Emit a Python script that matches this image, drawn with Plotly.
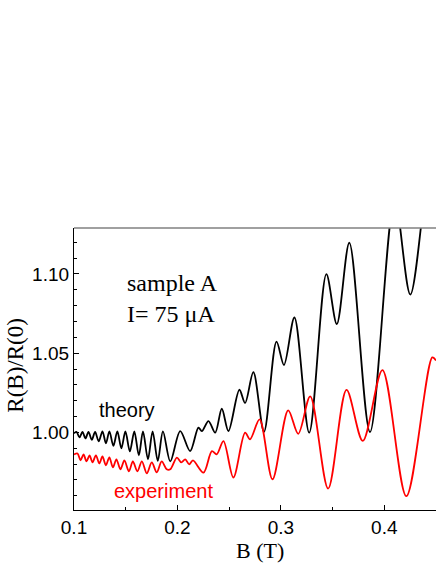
import plotly.graph_objects as go

# ---- data ----
theory_B = [0.1000, 0.1024, 0.1053, 0.1082, 0.1111, 0.1140, 0.1172, 0.1204, 0.1239, 0.1275,
            0.1309, 0.1342, 0.1381, 0.1419, 0.1458, 0.1497, 0.1540, 0.1583, 0.1627, 0.1667,
            0.1715, 0.1760, 0.1810, 0.1860, 0.1931, 0.2027, 0.2123, 0.2203, 0.2236, 0.2300,
            0.2365, 0.2429, 0.2493, 0.2599, 0.2654, 0.2734, 0.2837, 0.2958, 0.3030, 0.3131,
            0.3274, 0.3440, 0.3541, 0.3662, 0.3862, 0.4100, 0.4252, 0.4457, 0.4500]
theory_R = [0.9994, 1.0003, 0.9968, 1.0003, 0.9962, 1.0003, 0.9953, 1.0003, 0.9943, 1.0006,
            0.9931, 1.0006, 0.9915, 1.0006, 0.9899, 1.0006, 0.9880, 1.0006, 0.9855, 1.0006,
            0.9830, 1.0006, 0.9820, 1.0006, 0.9817, 1.0008, 0.9882, 1.0030, 1.0008, 1.0071,
            0.9998, 1.0149, 1.0008, 1.0269, 1.0186, 1.0380, 1.0003, 1.0573, 1.0425, 1.0725,
            0.9998, 1.0999, 1.0684, 1.1197, 1.0002, 1.1470, 1.0870, 1.1780, 1.1700]

exp_B = [0.1000, 0.1034, 0.1063, 0.1092, 0.1121, 0.1150, 0.1179, 0.1212, 0.1245, 0.1275,
         0.1308, 0.1342, 0.1376, 0.1410, 0.1449, 0.1487, 0.1531, 0.1569, 0.1613, 0.1656,
         0.1704, 0.1752, 0.1800, 0.1848, 0.1896, 0.1931, 0.1995, 0.2037, 0.2075, 0.2114,
         0.2150, 0.2252, 0.2333, 0.2379, 0.2445, 0.2541, 0.2654, 0.2702, 0.2794, 0.2919,
         0.3071, 0.3168, 0.3284, 0.3457, 0.3635, 0.3792, 0.3982, 0.4213, 0.4464, 0.4500]
exp_R = [0.9861, 0.9867, 0.9824, 0.9861, 0.9817, 0.9855, 0.9811, 0.9855, 0.9804, 0.9848,
         0.9792, 0.9842, 0.9779, 0.9830, 0.9767, 0.9823, 0.9754, 0.9817, 0.9754, 0.9817,
         0.9741, 0.9810, 0.9748, 0.9817, 0.9767, 0.9767, 0.9841, 0.9811, 0.9830, 0.9798,
         0.9823, 0.9746, 0.9882, 0.9861, 0.9945, 0.9715, 0.9998, 0.9956, 1.0082, 0.9704,
         1.0139, 0.9991, 1.0227, 0.9645, 1.0268, 0.9946, 1.0393, 0.9597, 1.0473, 1.0454]

x_ticks = [0.1, 0.2, 0.3, 0.4]
x_tick_labels = ["0.1", "0.2", "0.3", "0.4"]
y_ticks = [0.95, 1.00, 1.05, 1.10]
y_tick_labels = ["0.95", "1.00", "1.05", "1.10"]

fig = go.Figure()
fig.add_trace(go.Scatter(x=theory_B, y=theory_R, mode="lines",
                         line=dict(color="black", width=1.8, shape="spline", smoothing=0.9),
                         showlegend=False, hoverinfo="skip"))
fig.add_trace(go.Scatter(x=exp_B, y=exp_R, mode="lines",
                         line=dict(color="#ff0000", width=1.8, shape="spline", smoothing=0.9),
                         showlegend=False, hoverinfo="skip"))

tick_font = dict(family="Liberation Sans, Arial, sans-serif", size=19, color="black")
fig.update_xaxes(range=[0.1, 0.45], tickvals=x_ticks, ticktext=x_tick_labels,
                 ticks="inside", ticklen=5, tickwidth=1.2, tickcolor="black",
                 showline=True, linecolor="black", linewidth=1.3, showgrid=False, zeroline=False,
                 tickfont=tick_font,
                 minor=dict(dtick=0.05, tick0=0.1, ticks="inside", ticklen=3, tickcolor="black", showgrid=False))
fig.update_yaxes(range=[0.951, 1.129], tickvals=y_ticks, ticktext=y_tick_labels,
                 ticks="inside", ticklen=5, tickwidth=1.2, tickcolor="black",
                 showline=True, linecolor="black", linewidth=1.3, showgrid=False, zeroline=False,
                 tickfont=tick_font,
                 minor=dict(dtick=0.01, tick0=0.95, ticks="inside", ticklen=3, tickcolor="black", showgrid=False))

serif = "Liberation Serif, Times New Roman, serif"
sans = "Liberation Sans, Arial, sans-serif"
annotations = [
    dict(x=0.1497, y=1.0945, xref="x", yref="y", text="sample A", showarrow=False,
         xanchor="left", yanchor="middle", font=dict(family=serif, size=24, color="black")),
    dict(x=0.1497, y=1.0750, xref="x", yref="y", text="I= 75 μA", showarrow=False,
         xanchor="left", yanchor="middle", font=dict(family=serif, size=24, color="black")),
    dict(x=0.1227, y=1.0139, xref="x", yref="y", text="theory", showarrow=False,
         xanchor="left", yanchor="middle", font=dict(family=sans, size=20, color="black")),
    dict(x=0.1371, y=0.9628, xref="x", yref="y", text="experiment", showarrow=False,
         xanchor="left", yanchor="middle", font=dict(family=sans, size=20, color="#ff0000")),
    dict(x=0.514, y=-0.142, xref="paper", yref="paper", text="B (T)", showarrow=False,
         xanchor="center", yanchor="middle", font=dict(family=serif, size=22, color="black")),
    dict(x=-0.164, y=0.514, xref="paper", yref="paper", text="R(B)/R(0)", showarrow=False,
         textangle=-90, xanchor="center", yanchor="middle", font=dict(family=serif, size=23, color="black")),
]

fig.update_layout(
    width=436, height=564,
    margin=dict(l=73.5, r=0, t=228, b=54),
    paper_bgcolor="white", plot_bgcolor="white",
    annotations=annotations,
    shapes=[dict(type="line", xref="paper", yref="paper", x0=0, x1=1, y0=1, y1=1,
                 line=dict(color="#808080", width=1.3))],
)

fig.write_html("out.html", config={"displayModeBar": False},
               post_script="document.body.style.margin='0px';document.body.style.padding='0px';")
